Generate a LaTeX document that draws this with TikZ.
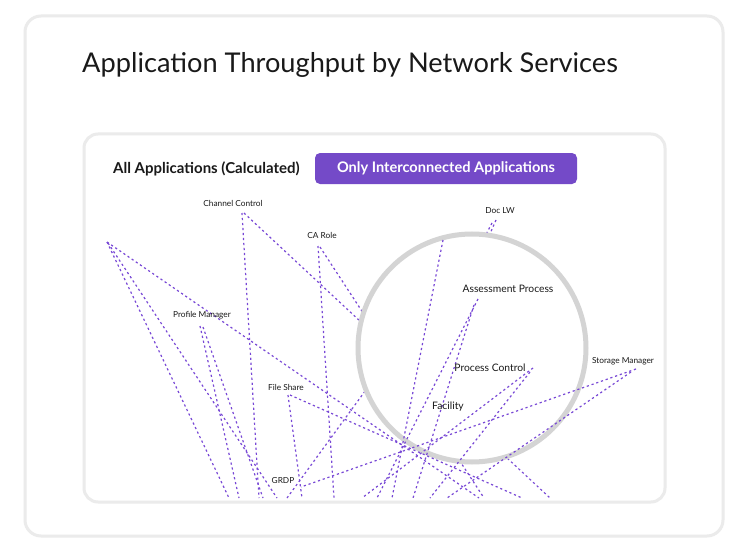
\documentclass[tikz,border=0pt]{standalone}
\usepackage{fontspec}
\setmainfont{Lato}
\definecolor{cardline}{RGB}{235,235,235}
\definecolor{ringgray}{RGB}{212,212,212}
\definecolor{btnpurple}{RGB}{116,74,200}
\definecolor{linkpurple}{RGB}{120,72,214}
\definecolor{inktext}{RGB}{25,25,25}
\begin{document}
\begin{tikzpicture}[x=1pt,y=-1pt,
  link/.style={draw=linkpurple, line width=1.2pt, dash pattern=on 2.2pt off 2.8pt},
  lbl/.style={font=\fontsize{8.3}{9.5}\selectfont, text=inktext, inner sep=0pt},
  biglbl/.style={font=\fontsize{10.3}{12}\selectfont, text=inktext, inner sep=0pt}]
\useasboundingbox (0,0) rectangle (748,551);
\fill[white] (0,0) rectangle (748,551);
% cards
\draw[cardline, line width=3pt, rounded corners=16pt] (25,16) rectangle (723,536);
\node[anchor=west, inner sep=0pt, text=inktext, font=\fontsize{27.2}{31}\selectfont] (title) at (82,65) {Application Throughput by Network Services};
\draw[cardline, line width=3pt, rounded corners=14pt] (84,134) rectangle (665,502);
\node[anchor=west, inner sep=0pt, text=inktext, font=\bfseries\fontsize{15}{18}\selectfont] (allapps) at (113,169) {All Applications (Calculated)};
\node[fill=btnpurple, rounded corners=5pt, minimum width=262pt, minimum height=31pt, inner sep=0pt, text=white, font=\bfseries\fontsize{14.6}{17}\selectfont] (onlybtn) at (446,168.5) {Only Interconnected Applications};
% anchor points
\coordinate (p1) at (107,242);
\coordinate (p1b) at (108,243);
\coordinate (cc) at (242,213);
\coordinate (ccb) at (244,213);
\coordinate (ca) at (318,246);
\coordinate (cab) at (320,247);
\coordinate (pm) at (200,326);
\coordinate (pmb) at (203,327);
\coordinate (fs) at (288,395);
\coordinate (fsb) at (290,395);
\coordinate (dl) at (496,220);
\coordinate (dlb) at (492,223);
\coordinate (ap) at (478,299);
\coordinate (apb) at (474,305);
\coordinate (pc) at (533,368);
\coordinate (pcb) at (530,372);
\coordinate (sm) at (636,369);
\coordinate (smb) at (631,372);
\coordinate (gr) at (301,487);
\coordinate (rtop) at (443,240);
% bottom ends
\coordinate (e229) at (229,498);
\coordinate (e239) at (239,498);
\coordinate (e259) at (259,498);
\coordinate (e263) at (263,498);
\coordinate (e277) at (277,498);
\coordinate (e287) at (287,498);
\coordinate (e302) at (302,498);
\coordinate (e334) at (334,498);
\coordinate (e362) at (362,498);
\coordinate (e377) at (377,498);
\coordinate (e392) at (392,498);
\coordinate (e413) at (413,498);
\coordinate (e430) at (430,498);
\coordinate (e447) at (447,498);
\coordinate (e479) at (479,498);
\coordinate (e484) at (484,498);
\coordinate (e522) at (522,498);
\coordinate (e550) at (550,498);
% hidden ends under the lens
\coordinate (h1) at (398,346);
\coordinate (h2) at (470,280);
\coordinate (h3) at (462,280);
% lines partly hidden by the lens
\draw[link] (ccb) -- (e550);
\draw[link] (cab) -- (e484);
\draw[link] (e287) -- (h1);
\draw[link] (dl) -- (h2);
\draw[link] (dlb) -- (h3);
% lens
\draw[ringgray, fill=white, line width=5pt] (472,348) circle[radius=114];
% other lines
\draw[link] (p1) -- (e229);
\draw[link] (p1b) -- (e277);
\draw[link] (p1) -- (e479);
\draw[link] (cc) -- (e259);
\draw[link] (ca) -- (e334);
\draw[link] (pm) -- (e239);
\draw[link] (pmb) -- (e263);
\draw[link] (fs) -- (e302);
\draw[link] (fsb) -- (e522);
\draw[link] (rtop) -- (e392);
\draw[link] (ap) -- (e377);
\draw[link] (apb) -- (e413);
\draw[link] (pc) -- (e362);
\draw[link] (pcb) -- (e430);
\draw[link] (sm) -- (gr);
\draw[link] (smb) -- (e447);
% labels
\node[lbl] (lcc) at (233,203) {Channel Control};
\node[lbl] (lca) at (322,235.5) {CA Role};
\node[lbl] (ldl) at (500,211) {Doc LW};
\node[lbl] (lpm) at (202,315) {Profile Manager};
\node[lbl] (lfs) at (286,387) {File Share};
\node[lbl] (lsm) at (623,361.5) {Storage Manager};
\node[lbl] (lgr) at (283,481) {GRDP};
\node[biglbl] (lap) at (508,288.5) {Assessment Process};
\node[biglbl] (lpc) at (490,368) {Process Control};
\node[biglbl] (lfa) at (448,407) {Facility};
\end{tikzpicture}
\end{document}
